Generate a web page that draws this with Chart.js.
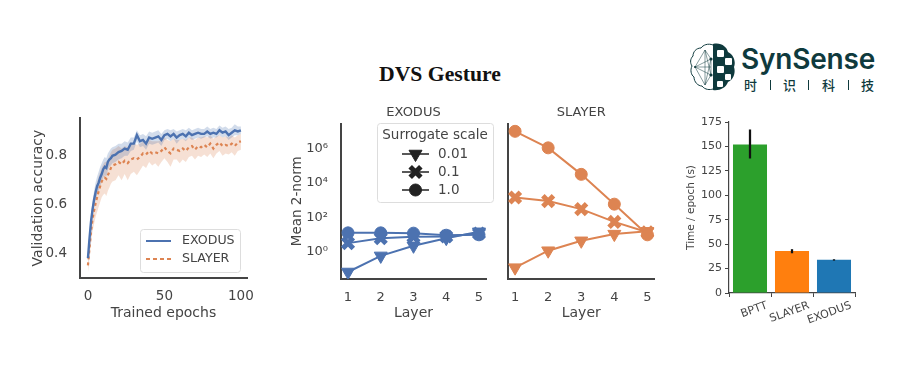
<!DOCTYPE html>
<html>
<head>
<meta charset="utf-8">
<script src="https://cdn.jsdelivr.net/npm/chart.js@4"></script>
<style>
  body { margin: 0; background: #fff; }
  #page { position: relative; width: 900px; height: 383px; overflow: hidden; }
  canvas { position: absolute; filter: blur(0.5px); }
  #heading { position: absolute; left: 340px; width: 200px; top: 62px; text-align: center;
    font: bold 21.7px "Liberation Serif", serif; color: #111; }
  #logo { position: absolute; left: 685px; top: 40px; filter: blur(0.3px); }
  #brand { position: absolute; left: 741px; top: 42px; font: 600 28px Inter, sans-serif; letter-spacing: -0.2px; color: #0f3a3d; }
  .cn { position: absolute; top: 75px; font: 500 13px "Noto Sans CJK SC", sans-serif; color: #0f3a3d; }
  .sep { position: absolute; top: 80px; width: 1px; height: 10px; background: #0f3a3d; }
</style>
</head>
<body>
<div id="page">
  <div id="heading">DVS Gesture</div>

  <svg id="logo" width="54" height="54" viewBox="0 0 54 54">
    <path d="M28 5 C23 3 18 5 16 8 C11 8 8 12 8 16 C5 19 5 23 7 26 C5 30 6 35 9 37 C9 42 13 46 17 46 C20 50 25 50 28 49"
      fill="none" stroke="#0f3a3d" stroke-width="1"/>
    <path d="M28 4 C36 2 42 7 43 12 C49 15 51 22 49 27 C51 33 48 40 43 42 C41 48 34 51 28 50 Z" fill="#0f3a3d"/>
    <g fill="#fff">
      <rect x="32" y="10" width="7" height="7" rx="1"/><rect x="40" y="18" width="7" height="7" rx="1"/>
      <rect x="32" y="26" width="7" height="7" rx="1"/><rect x="40" y="34" width="6" height="6" rx="1"/>
      <rect x="32" y="41" width="6" height="6" rx="1"/>
    </g>
    <g stroke="#0f3a3d" stroke-width="0.5" fill="none">
      <path d="M10 27 L20 10 L26 19 L10 27 L26 35 L20 45 L10 27 M20 10 L20 45 M26 19 L26 35 M20 10 L26 35 M20 45 L26 19 M10 27 L26 27"/>
    </g>
    <g fill="#0f3a3d">
      <circle cx="26" cy="19" r="1.6"/><circle cx="26" cy="35" r="1.6"/><circle cx="10" cy="27" r="1"/>
    </g>
  </svg>
  <div id="brand">SynSense</div>
  <div class="cn" style="left:744px">时</div><div class="sep" style="left:770px"></div>
  <div class="cn" style="left:783px">识</div><div class="sep" style="left:808px"></div>
  <div class="cn" style="left:822px">科</div><div class="sep" style="left:848px"></div>
  <div class="cn" style="left:861px">技</div>

  <canvas id="accChart" style="left:30px;top:105px" width="230" height="217"></canvas>
  <canvas id="exodusChart" style="left:289px;top:100px" width="211" height="222"></canvas>
  <canvas id="slayerChart" style="left:495px;top:100px" width="172" height="222"></canvas>
  <canvas id="timeChart" style="left:685px;top:110px" width="180" height="225"></canvas>
</div>

<script>
const epochs = [0,1,2,3,4,5,6,7,8,9,10,11,12,13,14,15,16,18,20,22,24,26,28,30,32,34,36,38,40,42,44,46,48,50,52,54,56,58,60,62,64,66,68,70,72,74,76,78,80,82,84,86,88,90,92,94,96,98,100];
const exodusMean = [.38,.46,.53,.58,.62,.65,.675,.69,.71,.725,.745,.755,.75,.775,.785,.79,.80,.805,.815,.82,.83,.825,.85,.85,.885,.86,.865,.85,.875,.87,.875,.88,.865,.885,.89,.88,.89,.875,.885,.89,.88,.895,.885,.89,.895,.89,.89,.90,.89,.895,.89,.905,.895,.90,.885,.895,.905,.90,.905];
const exodusHigh = [.40,.49,.56,.61,.655,.69,.715,.735,.755,.77,.785,.795,.79,.81,.82,.83,.835,.84,.85,.85,.86,.855,.875,.875,.905,.885,.89,.88,.90,.895,.90,.905,.89,.905,.91,.905,.91,.90,.905,.91,.905,.915,.905,.91,.915,.91,.91,.92,.91,.915,.91,.925,.915,.92,.91,.915,.93,.92,.92];
const exodusLow = [.36,.43,.50,.55,.59,.62,.64,.655,.675,.69,.71,.72,.715,.74,.755,.76,.77,.775,.785,.79,.80,.80,.82,.825,.86,.835,.84,.825,.85,.845,.85,.855,.84,.865,.87,.86,.87,.85,.865,.87,.86,.875,.865,.87,.875,.87,.875,.88,.87,.875,.875,.885,.875,.88,.865,.875,.885,.885,.89];
const slayerMean = [.35,.42,.49,.54,.575,.605,.63,.655,.675,.695,.705,.71,.705,.72,.735,.75,.76,.765,.775,.765,.78,.77,.785,.79,.785,.795,.81,.805,.82,.81,.815,.81,.82,.835,.82,.81,.83,.825,.82,.83,.82,.835,.84,.825,.84,.835,.845,.835,.85,.83,.845,.855,.84,.845,.84,.85,.84,.855,.86];
const slayerHigh = [.38,.46,.53,.585,.625,.66,.69,.715,.735,.75,.765,.775,.775,.785,.80,.815,.825,.83,.84,.83,.84,.835,.85,.85,.845,.85,.86,.855,.865,.86,.86,.86,.865,.875,.865,.86,.87,.865,.865,.87,.865,.875,.875,.865,.875,.875,.88,.875,.885,.87,.88,.885,.875,.88,.875,.885,.875,.885,.89];
const slayerLow = [.32,.38,.44,.49,.52,.55,.57,.59,.61,.63,.64,.645,.635,.655,.67,.685,.695,.70,.72,.70,.725,.70,.725,.735,.72,.74,.76,.75,.775,.76,.77,.755,.775,.79,.775,.755,.785,.785,.77,.785,.775,.795,.80,.785,.80,.795,.805,.795,.81,.79,.81,.82,.80,.81,.805,.815,.80,.82,.825];

const layers = [1,2,3,4,5];
const exodusTri = [0.07,0.6,2.3,6.4,15];
const exodusCross = [3.3,6.3,7.7,8,12];
const exodusCircle = [13,13,12.5,9.5,10];
const slayerTri = [0.125,1.2,4.5,11,16];
const slayerCross = [1450,900,310,56,14];
const slayerCircle = [1e7,1.1e6,3.2e4,600,10];
const normTicks = [1,100,10000,1000000];
const normLabels = {1:'10⁰',100:'10²',10000:'10⁴',1000000:'10⁶'};
const scaleNames = ['0.01','0.1','1.0'];

const methods = ['BPTT','SLAYER','EXODUS'];
const timePerEpoch = [152,43,34];
const timeErrLow = [138,41,33.5];
const timeErrHigh = [167,44.5,34.2];
const methodColors = ['#2ca02c','#ff7f0e','#1f77b4'];

const BLUE = '#4c72b0';
const ORANGE = '#dd8452';
const INK = '#444';
const FONT = '"DejaVu Sans", sans-serif';

function xy(xs, ys) {
  return ys.map((y, i) => ({x: xs[i], y: y}));
}
function fixWidth(w) { return scale => { scale.width = w; }; }
function fixHeight(h) { return scale => { scale.height = h; }; }

function spine(extra) {
  return Object.assign({
    border: {display: true, color: INK, width: 2},
    grid: {display: false}
  }, extra);
}
function axisTitle(text, size) {
  return {display: true, text: text, color: INK, font: {family: FONT, size: size}, padding: 0};
}

function drawBox(ctx, x, y, w, h) {
  ctx.save();
  ctx.strokeStyle = '#ddd';
  ctx.fillStyle = 'rgba(255,255,255,0.85)';
  ctx.lineWidth = 1;
  ctx.beginPath();
  ctx.roundRect(x, y, w, h, 3);
  ctx.fill();
  ctx.stroke();
  ctx.restore();
}

// legend for the accuracy panel
const accLegend = {
  id: 'accLegend',
  afterDraw(chart) {
    const ctx = chart.ctx;
    drawBox(ctx, 110.5, 124.5, 100, 43);
    ctx.save();
    ctx.font = '12.6px ' + FONT;
    ctx.fillStyle = INK;
    ctx.textBaseline = 'middle';
    ctx.lineWidth = 2;
    ctx.strokeStyle = BLUE;
    ctx.beginPath(); ctx.moveTo(116, 136); ctx.lineTo(141, 136); ctx.stroke();
    ctx.strokeStyle = ORANGE;
    ctx.setLineDash([4, 3]);
    ctx.beginPath(); ctx.moveTo(116, 154); ctx.lineTo(141, 154); ctx.stroke();
    ctx.fillText('EXODUS', 152, 136);
    ctx.fillText('SLAYER', 152, 154);
    ctx.restore();
  }
};

// legend for the surrogate scale, same marker shapes as the lines
const scaleLegend = {
  id: 'scaleLegend',
  afterDraw(chart) {
    const ctx = chart.ctx;
    drawBox(ctx, 88.5, 23.5, 116, 79);
    ctx.save();
    ctx.font = '13.5px ' + FONT;
    ctx.fillStyle = INK;
    ctx.textBaseline = 'middle';
    ctx.textAlign = 'center';
    ctx.fillText('Surrogate scale', 146, 35);
    ctx.textAlign = 'left';
    const rows = [54, 72, 90];
    rows.forEach((y, i) => {
      const shape = markerStyle(i);
      ctx.strokeStyle = '#222';
      ctx.lineWidth = 1.5;
      ctx.beginPath(); ctx.moveTo(113, y); ctx.lineTo(140, y); ctx.stroke();
      ctx.fillStyle = '#222';
      ctx.lineWidth = shape.pointBorderWidth;
      Chart.helpers.drawPoint(ctx, {
        pointStyle: shape.pointStyle,
        rotation: shape.pointRotation,
        radius: shape.pointRadius,
        borderWidth: shape.pointBorderWidth
      }, 126.5, y);
      ctx.fillStyle = INK;
      ctx.fillText(scaleNames[i], 149, y);
    });
    ctx.restore();
  }
};

function markerStyle(i) {
  if (i === 0) return {pointStyle: 'triangle', pointRotation: 180, pointRadius: 7.5, pointBorderWidth: 1};
  if (i === 1) return {pointStyle: 'crossRot', pointRotation: 0, pointRadius: 7.5, pointBorderWidth: 5};
  return {pointStyle: 'circle', pointRotation: 0, pointRadius: 6, pointBorderWidth: 1};
}

function normSets(color, series) {
  return series.map((vals, i) => Object.assign({
    data: xy(layers, vals),
    borderColor: color,
    backgroundColor: color,
    pointBackgroundColor: color,
    pointBorderColor: color,
    borderWidth: 2,
    order: series.length - i
  }, markerStyle(i)));
}

function normChart(id, title, color, series, withAxis, plugins, rightPad, leftWidth) {
  return new Chart(document.getElementById(id), {
    type: 'line',
    data: {datasets: normSets(color, series)},
    options: {
      responsive: false,
      animation: false,
      layout: {padding: {top: 0, right: rightPad, left: 0, bottom: 0}},
      plugins: {
        legend: {display: false},
        tooltip: {enabled: false},
        title: {display: true, text: title, fullSize: false, color: INK,
          font: {family: FONT, size: 13, weight: 'normal'}, padding: {top: 5, bottom: 3}}
      },
      scales: {
        x: spine({
          type: 'linear', min: 0.786, max: 5.214,
          ticks: {stepSize: 1, includeBounds: false, color: INK, font: {family: FONT, size: 13}, padding: 3},
          title: axisTitle('Layer', 14),
          afterFit: fixHeight(43)
        }),
        y: spine({
          type: 'logarithmic', min: 0.0275, max: 2.8e7,
          afterBuildTicks: scale => { scale.ticks = normTicks.map(v => ({value: v})); },
          ticks: {autoSkip: false, display: withAxis, color: INK, font: {family: FONT, size: 13}, padding: 5,
            callback: v => normLabels[v] || ''},
          title: Object.assign(axisTitle('Mean 2-norm', 13.5), {display: withAxis}),
          afterFit: fixWidth(leftWidth)
        })
      }
    },
    plugins: plugins
  });
}

// validation accuracy
new Chart(document.getElementById('accChart'), {
  type: 'line',
  data: {
    datasets: [
      {data: xy(epochs, exodusMean), borderColor: BLUE, borderWidth: 2.4, pointRadius: 0, order: 1},
      {data: xy(epochs, slayerMean), borderColor: ORANGE, borderWidth: 2.2, borderDash: [3, 3], pointRadius: 0, order: 2},
      {data: xy(epochs, exodusHigh), borderWidth: 0, pointRadius: 0, fill: '+1', backgroundColor: 'rgba(76,114,176,0.25)', order: 3},
      {data: xy(epochs, exodusLow), borderWidth: 0, pointRadius: 0, order: 3},
      {data: xy(epochs, slayerHigh), borderWidth: 0, pointRadius: 0, fill: '+1', backgroundColor: 'rgba(221,132,82,0.25)', order: 4},
      {data: xy(epochs, slayerLow), borderWidth: 0, pointRadius: 0, order: 4}
    ]
  },
  options: {
    responsive: false,
    animation: false,
    layout: {padding: {top: 12, right: 13, left: 0, bottom: 0}},
    plugins: {legend: {display: false}, tooltip: {enabled: false}},
    scales: {
      x: spine({
        type: 'linear', min: -5.2, max: 104,
        ticks: {stepSize: 50, includeBounds: false, color: INK, font: {family: FONT, size: 13.5}, padding: 2},
        title: axisTitle('Trained epochs', 14),
        afterFit: fixHeight(44)
      }),
      y: spine({
        min: 0.298, max: 0.955,
        ticks: {stepSize: 0.2, includeBounds: false, color: INK, font: {family: FONT, size: 13.5}, padding: 5,
          callback: v => v.toFixed(1)},
        title: axisTitle('Validation accuracy', 14),
        afterFit: fixWidth(50)
      })
    }
  },
  plugins: [accLegend]
});

normChart('exodusChart', 'EXODUS', BLUE, [exodusTri, exodusCross, exodusCircle], true, [scaleLegend], 14, 52);
normChart('slayerChart', 'SLAYER', ORANGE, [slayerTri, slayerCross, slayerCircle], false, [], 12, 13);

// time per epoch
new Chart(document.getElementById('timeChart'), {
  type: 'bar',
  data: {
    labels: methods,
    datasets: [
      {data: timeErrLow.map((v, i) => [v, timeErrHigh[i]]), backgroundColor: '#111', barThickness: 1.6, grouped: false, order: 1},
      {data: timePerEpoch, backgroundColor: methodColors, barPercentage: 0.81, categoryPercentage: 1, grouped: false, order: 2}
    ]
  },
  options: {
    responsive: false,
    animation: false,
    layout: {padding: {top: 12, right: 10, left: 0, bottom: 0}},
    plugins: {legend: {display: false}, tooltip: {enabled: false}},
    scales: {
      x: {
        border: {display: true, color: INK, width: 1.2},
        grid: {drawOnChartArea: false, drawTicks: true, tickLength: 4, color: INK},
        ticks: {autoSkip: false, color: INK, font: {family: FONT, size: 11}, minRotation: 20, maxRotation: 20, padding: 2, labelOffset: 17},
        afterFit: fixHeight(42)
      },
      y: {
        min: 0, max: 175,
        border: {display: true, color: INK, width: 1.2},
        grid: {drawOnChartArea: false, drawTicks: true, tickLength: 4, color: INK},
        ticks: {stepSize: 25, color: INK, font: {family: FONT, size: 11}, padding: 3},
        title: axisTitle('Time / epoch (s)', 10.5),
        afterFit: fixWidth(44)
      }
    }
  }
});
</script>
</body>
</html>
